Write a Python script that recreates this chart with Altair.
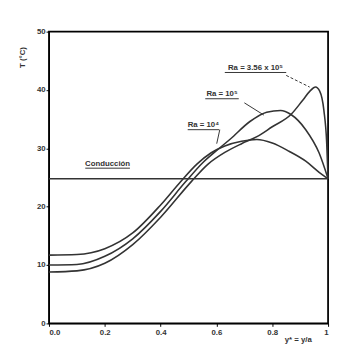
import altair as alt
import pandas as pd

# Curves (y* , T)
ra4_x = [0, 0.1, 0.2, 0.3, 0.4, 0.47, 0.53, 0.58, 0.63, 0.69, 0.745, 0.8, 0.86, 0.92, 0.968, 1.0]
ra4_t = [11.7, 11.8, 12.8, 15.5, 20.3, 24.2, 27.3, 29.2, 30.4, 31.2, 31.5, 30.9, 29.5, 27.8, 25.9, 24.8]

ra5_x = [0, 0.1, 0.2, 0.3, 0.4, 0.49, 0.55, 0.6, 0.65, 0.72, 0.78, 0.83, 0.867, 0.92, 0.968, 1.0]
ra5_t = [10.0, 10.1, 11.5, 14.5, 19.2, 24.3, 27.5, 29.6, 31.6, 34.6, 36.2, 36.5, 35.8, 33.2, 29.2, 24.8]

ra356_x = [0, 0.1, 0.2, 0.3, 0.4, 0.51, 0.57, 0.63, 0.69, 0.745, 0.8, 0.867, 0.91, 0.935, 0.955, 0.97, 0.985, 0.995, 1.0]
ra356_t = [8.8, 9.0, 10.3, 13.5, 18.2, 24.3, 27.3, 29.3, 30.8, 32.0, 33.7, 35.8, 38.3, 39.8, 40.5, 39.8, 36.5, 31.0, 24.8]

cond_x = [0.0, 1.0]
cond_t = [24.8, 24.8]

# Labels
lab_text = ["Conducción", "Ra = 10⁴", "Ra = 10⁵", "Ra = 3.56 x 10⁵"]
lab_x = [0.21, 0.553, 0.62, 0.74]
lab_t = [27.3, 34.0, 39.3, 43.7]
ul_x1 = [0.13, 0.497, 0.56, 0.63]
ul_x2 = [0.29, 0.61, 0.68, 0.85]
ul_t = [26.6, 33.2, 38.5, 43.0]

# leader lines
lead_x1 = [0.612, 0.70]
lead_t1 = [33.2, 37.8]
lead_x2 = [0.601, 0.77]
lead_t2 = [30.8, 35.7]
dash_x1 = [0.85]
dash_t1 = [42.5]
dash_x2 = [0.934]
dash_t2 = [40.5]

rows = []
for name, xs_, ts_ in [("1e4", ra4_x, ra4_t), ("1e5", ra5_x, ra5_t), ("3.56e5", ra356_x, ra356_t), ("cond", cond_x, cond_t)]:
    for i, (a, b) in enumerate(zip(xs_, ts_)):
        rows.append({"series": name, "x": a, "t": b, "o": i})
curves = pd.DataFrame(rows)

labels = pd.DataFrame({"text": lab_text, "x": lab_x, "t": lab_t})
underl = pd.DataFrame({"x": ul_x1, "x2": ul_x2, "t": ul_t})
leads = pd.DataFrame({"x": lead_x1, "t": lead_t1, "x2": lead_x2, "t2": lead_t2})
dashes = pd.DataFrame({"x": dash_x1, "t": dash_t1, "x2": dash_x2, "t2": dash_t2})

INK = "#333333"
FONT = "Liberation Sans"

xs = alt.Scale(domain=[0, 1], nice=False)
ys = alt.Scale(domain=[0, 50], nice=False)

x_axis = alt.Axis(
    values=[0, 0.1, 0.2, 0.3, 0.4, 0.5, 0.6, 0.7, 0.8, 0.9, 1.0],
    labelExpr="datum.value == 1 ? '1' : (round(datum.value*10) % 2 == 0 ? format(datum.value, '.1f') : '')",
    title="y* = y/a", titleAnchor="end", titleX=255, titleY=13, titleAlign="center",
    grid=False, tickSize=3, labelPadding=2,
)
y_axis = alt.Axis(
    values=[0, 5, 10, 15, 20, 25, 30, 35, 40, 45, 50],
    labelExpr="datum.value % 10 == 0 ? datum.value : ''",
    title="T (°C)", titleAngle=270, titleX=-27, titleY=26, titleAlign="center", titleBaseline="middle",
    grid=False, tickSize=3, labelPadding=1,
)

lines = alt.Chart(curves).mark_line(color=INK, strokeWidth=1.6, interpolate="monotone").encode(
    x=alt.X("x:Q", scale=xs, axis=x_axis),
    y=alt.Y("t:Q", scale=ys, axis=y_axis),
    detail="series:N",
    order="o:Q",
)

text = alt.Chart(labels).mark_text(font=FONT, fontSize=8, fontWeight="bold", color=INK).encode(
    x=alt.X("x:Q", scale=xs), y=alt.Y("t:Q", scale=ys), text="text:N"
)
uls = alt.Chart(underl).mark_rule(color=INK, strokeWidth=1).encode(
    x=alt.X("x:Q", scale=xs), x2="x2:Q", y=alt.Y("t:Q", scale=ys)
)
ld = alt.Chart(leads).mark_rule(color=INK, strokeWidth=1).encode(
    x=alt.X("x:Q", scale=xs), x2="x2:Q", y=alt.Y("t:Q", scale=ys), y2="t2:Q"
)
dd = alt.Chart(dashes).mark_rule(color=INK, strokeWidth=1, strokeDash=[3, 2]).encode(
    x=alt.X("x:Q", scale=xs), x2="x2:Q", y=alt.Y("t:Q", scale=ys), y2="t2:Q"
)

chart = alt.layer(lines, uls, ld, dd, text).properties(
    width=286, height=299,
    autosize=alt.AutoSizeParams(type="none"),
    padding={"left": 42, "top": 20, "right": 3, "bottom": 22},
).configure_view(
    stroke="black", strokeWidth=1.8
).configure_axis(
    domainColor="black", tickColor="black", labelColor=INK, titleColor=INK,
    labelFont=FONT, titleFont=FONT, labelFontSize=8, titleFontSize=8,
    labelFontWeight="bold", titleFontWeight="bold",
)

chart.save("out.html", embed_options={"renderer": "svg", "actions": False})
